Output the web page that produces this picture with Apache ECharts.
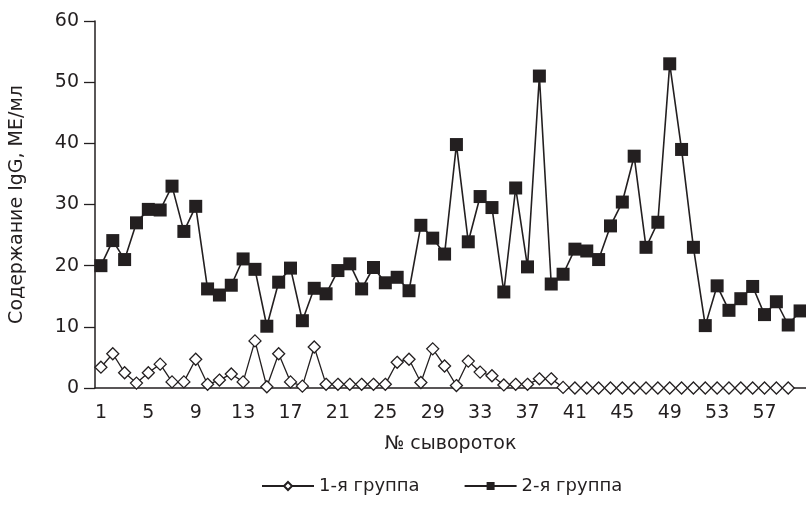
<!DOCTYPE html>
<html>
<head>
<meta charset="utf-8">
<script src="https://cdn.jsdelivr.net/npm/echarts@6/dist/echarts.min.js"></script>
<style>
html,body{margin:0;padding:0;background:#fff;}
#c{width:806px;height:506px;}
</style>
</head>
<body>
<div id="c"></div>
<script>
const categories = Array.from({length: 60}, (_, i) => String(i + 1));
const group1 = [3.4,5.6,2.5,0.8,2.5,3.9,1.0,1.0,4.7,0.6,1.3,2.3,1.0,7.7,0.2,5.6,1.0,0.3,6.7,0.6,
  0.6,0.6,0.6,0.6,0.6,4.2,4.7,0.9,6.4,3.6,0.4,4.4,2.6,2.0,0.5,0.6,0.6,1.5,1.5,0.1,
  0,0,0,0,0,0,0,0,0,0,0,0,0,0,0,0,0,0,0];
const group2 = [20.0,24.1,21.0,27.0,29.2,29.1,33.0,25.6,29.7,16.2,15.2,16.8,21.1,19.4,10.1,17.3,19.6,11.0,16.3,15.4,
  19.2,20.3,16.2,19.7,17.2,18.1,15.9,26.6,24.5,21.9,39.8,23.9,31.3,29.5,15.7,32.7,19.8,51.0,17.0,18.6,
  22.7,22.4,21.0,26.5,30.4,37.9,23.0,27.1,53.0,39.0,23.0,10.2,16.7,12.7,14.6,16.6,12.0,14.1,10.3,12.6];
const seriesNames = ['1-я группа', '2-я группа'];
const yTitle = 'Содержание IgG, МЕ/мл';
const xTitle = '№ сывороток';

const ink = '#231f20';
const font = 'DejaVu Sans, Liberation Sans, sans-serif';
const chart = echarts.init(document.getElementById('c'));
chart.setOption({
  animation: false,
  backgroundColor: '#fff',
  textStyle: {fontFamily: font, color: ink},
  grid: {left: 90, right: 0, top: 21, bottom: 118, containLabel: false},
  legend: {
    bottom: 6, left: 256, itemWidth: 52, itemHeight: 10, itemGap: 44,
    textStyle: {fontSize: 18, color: ink, fontFamily: font},
    data: seriesNames
  },
  xAxis: {
    type: 'category', data: categories, boundaryGap: true,
    name: xTitle, nameLocation: 'middle', nameGap: 47,
    nameTextStyle: {fontSize: 19, color: ink, fontFamily: font},
    axisLine: {lineStyle: {color: ink, width: 1.5}},
    axisTick: {interval: 0, length: 11, lineStyle: {color: ink, width: 1.3}},
    axisLabel: {interval: 3, margin: 16, fontSize: 19, color: ink, fontFamily: font},
    splitLine: {show: false}
  },
  yAxis: {
    type: 'value', min: 0, max: 60, interval: 10,
    name: yTitle, nameLocation: 'middle', nameGap: 68,
    nameTextStyle: {fontSize: 19, color: ink, fontFamily: font},
    axisLine: {show: true, lineStyle: {color: ink, width: 1.5}},
    axisTick: {show: true, length: 11, lineStyle: {color: ink, width: 1.3}},
    axisLabel: {margin: 16, fontSize: 19, color: ink, fontFamily: font},
    splitLine: {show: false}
  },
  series: [
    {
      name: seriesNames[0], type: 'line', data: group1,
      symbol: 'diamond', symbolSize: 12, showAllSymbol: true,
      lineStyle: {color: ink, width: 1.3},
      itemStyle: {color: '#fff', borderColor: ink, borderWidth: 1.3},
      z: 3
    },
    {
      name: seriesNames[1], type: 'line', data: group2,
      symbol: 'rect', symbolSize: 13, showAllSymbol: true,
      lineStyle: {color: ink, width: 1.6},
      itemStyle: {color: ink, borderColor: ink, borderWidth: 0},
      z: 4
    }
  ]
});
</script>
</body>
</html>
